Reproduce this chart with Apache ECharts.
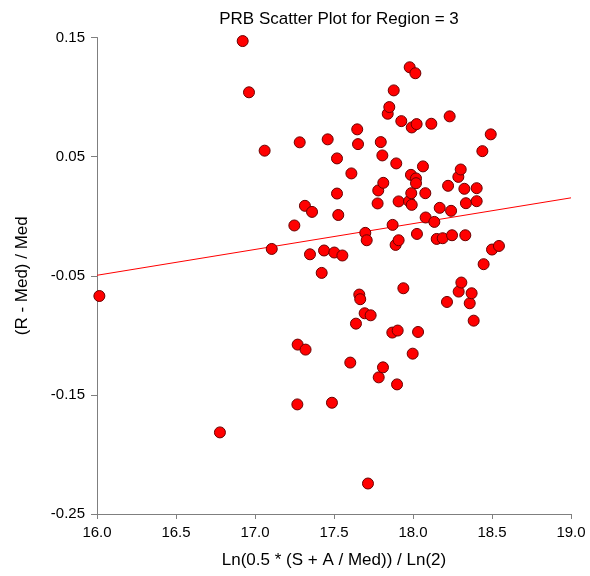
<!DOCTYPE html>
<html>
<head>
<meta charset="utf-8">
<script src="https://cdn.jsdelivr.net/npm/echarts@6/dist/echarts.min.js"></script>
<style>
html,body{margin:0;padding:0;background:#fff;}
#chart{width:590px;height:576px;}
</style>
</head>
<body>
<div id="chart"></div>
<script>
var titleText = 'PRB Scatter Plot for Region = 3';
var xAxisName = 'Ln(0.5 * (S + A / Med)) / Ln(2)';
var yAxisName = '(R - Med) / Med';

var xValues = [16.015,16.778,16.922,16.962,17.061,17.106,17.249,17.268,17.27,17.283,
  17.316,17.32,17.348,17.361,17.422,17.437,17.46,17.487,17.502,17.519,
  17.519,17.527,17.553,17.603,17.61,17.639,17.647,17.652,17.66,17.666,
  17.694,17.698,17.707,17.715,17.732,17.776,17.78,17.783,17.796,17.806,
  17.81,17.812,17.84,17.85,17.869,17.871,17.878,17.89,17.894,17.899,
  17.903,17.909,17.909,17.926,17.939,17.975,17.979,17.987,17.989,17.992,
  17.992,17.998,18.015,18.019,18.019,18.023,18.025,18.032,18.063,18.078,
  18.08,18.116,18.135,18.15,18.169,18.188,18.215,18.222,18.232,18.241,
  18.247,18.287,18.289,18.302,18.306,18.325,18.331,18.335,18.359,18.371,
  18.384,18.403,18.403,18.439,18.447,18.492,18.5,18.544];
var yValues = [-0.067,-0.1815,0.147,0.104,0.055,-0.0275,-0.0078,-0.158,-0.1078,0.062,
  0.0087,-0.112,-0.032,0.0036,-0.0476,-0.0288,0.0645,-0.1566,-0.0305,0.0485,
  0.019,0.001,-0.033,-0.1229,0.0359,-0.0902,0.0729,0.0605,-0.0658,-0.0697,
  -0.0815,-0.014,-0.0202,-0.2244,-0.0832,0.0107,0.0216,-0.1353,0.0622,0.051,
  -0.1269,0.028,0.086,0.0916,-0.0977,-0.0073,0.1056,-0.0241,0.0443,-0.1412,
  -0.096,0.0124,-0.0202,0.0798,-0.0605,0.0126,0.125,0.0347,0.0193,0.0745,
  0.0095,-0.1154,0.12,0.0317,0.0277,0.0773,-0.0149,-0.0972,0.0418,0.0193,
  -0.0011,0.0776,-0.0048,-0.0191,0.007,-0.0185,-0.072,0.0255,0.0838,0.0045,
  -0.016,0.033,-0.0633,0.0392,-0.0557,0.023,-0.016,0.0109,-0.0731,-0.0647,
  -0.0877,0.0235,0.0126,0.0546,-0.0403,0.0687,-0.028,-0.025];

var lineX = [16.0, 19.0];
var lineY = [-0.0496, 0.0154];

var xTicks = [16.0, 16.5, 17.0, 17.5, 18.0, 18.5, 19.0];
var yTicks = [-0.25, -0.15, -0.05, 0.05, 0.15];

var pts = xValues.map(function(x, i){ return [x, yValues[i]]; });
var linePts = lineX.map(function(x, i){ return [x, lineY[i]]; });

var FONT = 'Liberation Sans, Arial, sans-serif';
var chart = echarts.init(document.getElementById('chart'), null, {renderer:'canvas'});
chart.setOption({
  animation:false,
  backgroundColor:'#ffffff',
  title:{
    text:titleText, left:334, top:6, textAlign:'center',
    textStyle:{fontFamily:FONT, fontSize:17, fontWeight:'normal', color:'#000'}
  },
  grid:{left:97, right:19, top:37.5, bottom:62, containLabel:false},
  xAxis:{
    type:'value', min:16, max:19,
    name:xAxisName, nameLocation:'middle', nameGap:38,
    nameTextStyle:{fontFamily:FONT, fontSize:17, color:'#000'},
    axisLine:{show:true, onZero:false, lineStyle:{color:'#7f7f7f', width:1}},
    axisTick:{show:true, length:5, customValues:xTicks, lineStyle:{color:'#7f7f7f'}},
    axisLabel:{customValues:xTicks, margin:11, fontFamily:FONT, fontSize:15, color:'#000',
      formatter:function(v){ return v.toFixed(1); }},
    splitLine:{show:false}
  },
  yAxis:{
    type:'value', min:-0.25, max:0.15,
    name:yAxisName, nameLocation:'middle', nameGap:66, nameRotate:90,
    nameTextStyle:{fontFamily:FONT, fontSize:17, color:'#000'},
    axisLine:{show:true, onZero:false, lineStyle:{color:'#7f7f7f', width:1}},
    axisTick:{show:true, length:6, customValues:yTicks, lineStyle:{color:'#7f7f7f'}},
    axisLabel:{customValues:yTicks, margin:12, fontFamily:FONT, fontSize:15, color:'#000',
      formatter:function(v){ return v.toFixed(2); }},
    splitLine:{show:false}
  },
  series:[
    {
      type:'line', data:linePts, showSymbol:false, symbol:'none',
      lineStyle:{color:'#ff0000', width:1}, z:1, silent:true
    },
    {
      type:'scatter', data:pts, symbol:'circle', symbolSize:11,
      itemStyle:{color:'#ff0000', borderColor:'#6a0000', borderWidth:1, opacity:1},
      z:2
    }
  ]
});
</script>
</body>
</html>
